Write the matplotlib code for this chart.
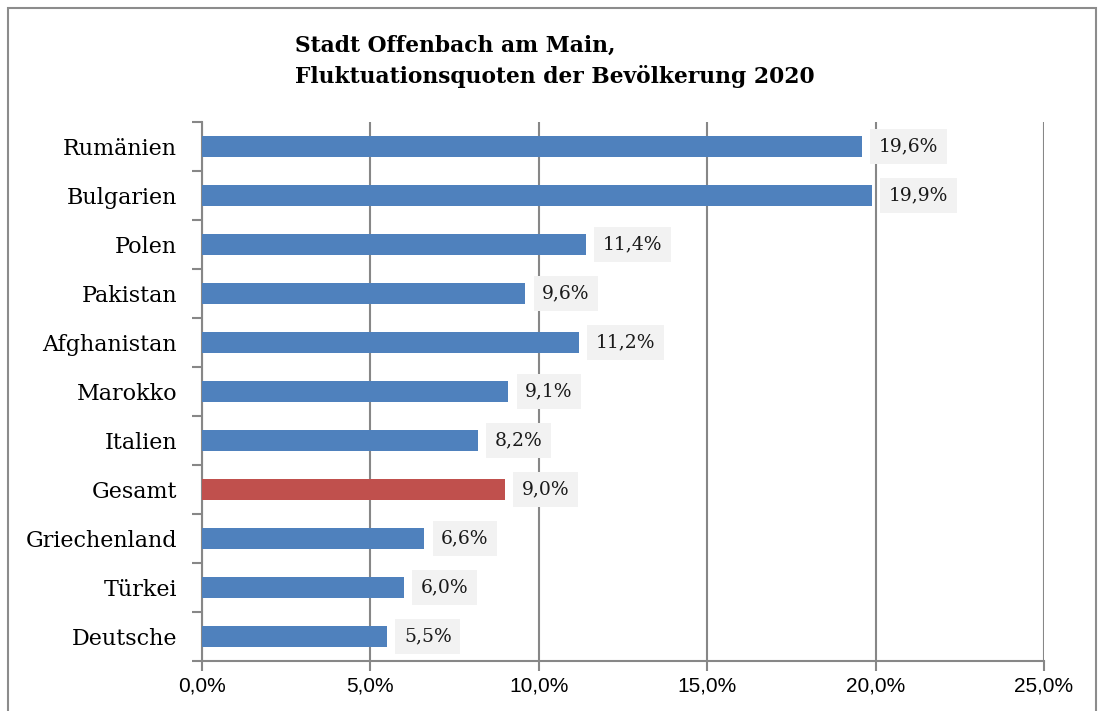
import matplotlib.pyplot as plt
import matplotlib.patches as mpatches
import numpy as np

# Daten
laender = ['Rumänien', 'Bulgarien', 'Polen', 'Pakistan', 'Afghanistan', 'Marokko',
           'Italien', 'Gesamt', 'Griechenland', 'Türkei', 'Deutsche']
quoten = [19.6, 19.9, 11.4, 9.6, 11.2, 9.1, 8.2, 9.0, 6.6, 6.0, 5.5]
farben = ['#4F81BD'] * 7 + ['#C0504D'] + ['#4F81BD'] * 3
xticks = [0, 5, 10, 15, 20, 25]

fig = plt.figure(figsize=(11.01, 7.11), dpi=100)
ax = fig.add_axes([202 / 1101, 1 - 661 / 711, 842 / 1101, 539 / 711])

# Rahmen um die Grafik
fig.patches.append(mpatches.Rectangle((8 / 1101, -0.05), 1088 / 1101, 1 - 8 / 711 + 0.05,
                                      transform=fig.transFigure, fill=False,
                                      edgecolor='#8c8c8c', linewidth=1.5))

y = np.arange(len(laender))
ax.barh(y, quoten, height=0.41, color=farben, zorder=3)
ax.set_ylim(len(laender) - 0.5, -0.5)
ax.set_xlim(0, 25)

# Beschriftungen an den Balken
for yi, v in zip(y, quoten):
    ax.annotate(f'{v:.1f}%'.replace('.', ','), (v, yi), xytext=(12, 0),
                textcoords='offset points', va='center', ha='left',
                fontsize=13.5, family='DejaVu Serif', color='#1a1a1a',
                bbox=dict(boxstyle='square,pad=0.45', facecolor='#f2f2f2', edgecolor='none'),
                zorder=4)

# Achsen
ax.set_xticks(xticks)
ax.set_xticklabels([f'{t:.1f}%'.replace('.', ',') for t in xticks],
                   family='Liberation Sans', fontsize=15)
ax.set_yticks(y)
ax.set_yticklabels(laender, family='DejaVu Serif', fontsize=16)
ax.set_yticks(np.arange(-0.5, len(laender)), minor=True)
ax.tick_params(axis='y', which='major', length=0, pad=18)
ax.tick_params(axis='y', which='minor', length=7, color='#878787', width=1.5)
ax.tick_params(axis='x', length=7, color='#878787', width=1.5, pad=4)
ax.grid(axis='x', color='#878787', linewidth=1.5, zorder=0)
for s in ['top', 'right']:
    ax.spines[s].set_visible(False)
for s in ['left', 'bottom']:
    ax.spines[s].set_color('#878787')
    ax.spines[s].set_linewidth(1.5)

# Titel
fig.text(295 / 1101, 1 - 61 / 711, 'Stadt Offenbach am Main,\nFluktuationsquoten der Bevölkerung 2020',
         family='DejaVu Serif', fontweight='bold', fontsize=15.7, va='center', ha='left',
         linespacing=1.45)

plt.savefig('out.png', dpi=100)
